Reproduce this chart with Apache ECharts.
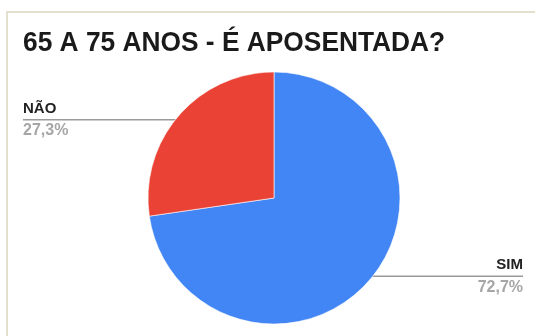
<!DOCTYPE html>
<html>
<head>
<meta charset="utf-8">
<script src="https://cdn.jsdelivr.net/npm/echarts@6/dist/echarts.min.js"></script>
<style>
  html, body { margin: 0; padding: 0; background: #fff; }
  #chart { width: 535px; height: 336px; }
</style>
</head>
<body>
<div id="chart"></div>
<script>
// Answers to "É aposentada?" for the 65–75 age group
const categories = ['SIM', 'NÃO'];
const shares = [72.7, 27.3];
const sliceColors = ['#4285f4', '#ea4335'];
const valueLabels = ['72,7%', '27,3%'];
const chartTitle = '65 A 75 ANOS - É APOSENTADA?';

const PIE_CENTER = [274, 198];
const PIE_RADIUS = 126;
const LABEL_LEFT = 23;
const LABEL_RIGHT = 523;

const chart = echarts.init(document.getElementById('chart'), null, { renderer: 'canvas' });

const option = {
  backgroundColor: '#ffffff',
  animation: false,
  graphic: [
    // thin frame along the top and left sides
    { type: 'line', shape: { x1: 6, y1: 12, x2: 535, y2: 12 }, style: { stroke: '#e3e0cd', lineWidth: 2 }, silent: true },
    { type: 'line', shape: { x1: 7, y1: 12, x2: 7, y2: 336 }, style: { stroke: '#e3e0cd', lineWidth: 2 }, silent: true },
    // heading, set in a slightly narrowed bold face
    {
      type: 'text',
      x: 23,
      y: 29,
      scaleX: 0.94,
      silent: true,
      style: {
        text: chartTitle,
        fontFamily: 'Liberation Sans, Arial, sans-serif',
        fontSize: 28,
        fontWeight: 'bold',
        fill: '#1a1a1a',
        textVerticalAlign: 'top'
      }
    }
  ],
  series: [{
    type: 'pie',
    center: PIE_CENTER,
    radius: PIE_RADIUS,
    startAngle: 90,
    clockwise: true,
    itemStyle: { borderColor: 'rgba(255,255,255,0.6)', borderWidth: 1 },
    emphasis: { disabled: true },
    label: {
      show: true,
      position: 'outside',
      formatter: function (p) {
        return '{n|' + p.name + '}\n{v|' + valueLabels[p.dataIndex] + '}';
      },
      rich: {
        n: { fontFamily: 'Liberation Sans, Arial, sans-serif', fontSize: 15, fontWeight: 'bold', color: '#222222', lineHeight: 22 },
        v: { fontFamily: 'Liberation Sans, Arial, sans-serif', fontSize: 16, fontWeight: 'bold', color: '#a6a6a6', lineHeight: 22 }
      }
    },
    labelLine: {
      show: true,
      length: 1,
      length2: 10,
      lineStyle: { color: '#9a9a9a', width: 1.5 }
    },
    // Leader lines run horizontally from just inside the slice out to the chart edge,
    // with the name above the line and the percentage below it.
    labelLayout: function (p) {
      const start = p.labelLinePoints[0];
      const sx = PIE_CENTER[0] + (start[0] - PIE_CENTER[0]) * 0.95;
      const sy = PIE_CENTER[1] + (start[1] - PIE_CENTER[1]) * 0.95;
      const isLeft = sx < PIE_CENTER[0];
      const edge = isLeft ? LABEL_LEFT : LABEL_RIGHT;
      return {
        x: edge,
        y: sy,
        align: isLeft ? 'left' : 'right',
        verticalAlign: 'middle',
        labelLinePoints: [[sx, sy], [sx, sy], [edge, sy]]
      };
    },
    data: categories.map(function (c, i) {
      return { name: c, value: shares[i], itemStyle: { color: sliceColors[i] } };
    })
  }]
};

chart.setOption(option);
</script>
</body>
</html>
